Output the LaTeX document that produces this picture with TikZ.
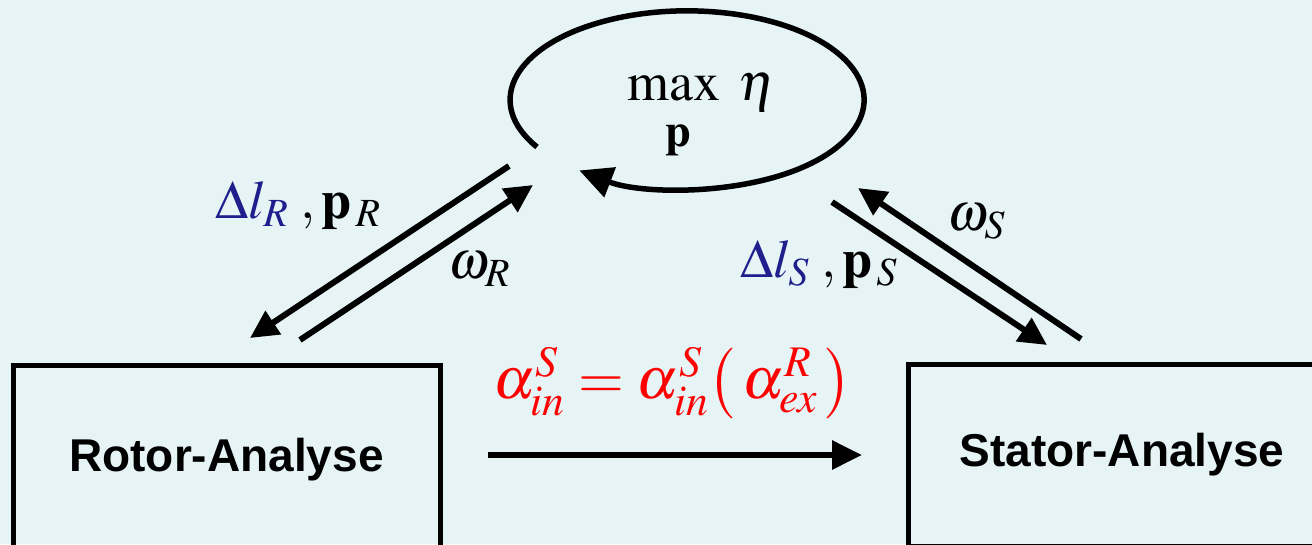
\documentclass[tikz,border=0pt]{standalone}
\usepackage{mathptmx}
\usepackage{fontspec}
\newfontfamily\arialfett[BoldFont={Liberation Sans Bold}]{Liberation Sans}
\usetikzlibrary{arrows.meta}
\definecolor{hgrund}{HTML}{E6F4F6}
\definecolor{dblau}{HTML}{1E1E8C}
\definecolor{frot}{HTML}{FF0000}
\tikzset{
  kasten/.style={draw=black,line width=5pt,inner sep=0pt,font=\arialfett\bfseries\fontsize{46}{50}\selectfont},
  pfeil/.style={line width=6pt,-{Triangle[length=30pt,width=28pt]}},
  schraeg/.style={line width=6pt,-{Triangle[length=28pt,width=27pt]}},
  schleife/.style={line width=5.5pt,-{Triangle[length=33pt,width=31pt]}},
  mathe/.style={inner sep=0pt,font=\fontsize{54}{60}\selectfont},
}
\begin{document}
\begin{tikzpicture}[x=1pt,y=-1pt]
  \useasboundingbox (0,0) rectangle (1312,544);
  \fill[hgrund] (0,0) rectangle (1312,544);
  \clip (0,0) rectangle (1312,544);
  % Kaesten
  \node[kasten,minimum width=427pt,minimum height=190pt] (rotor) at (226.5,460) {Rotor-Analyse};
  \node[kasten,minimum width=428pt,minimum height=182pt] (stator) at (1122,455) {Stator-Analyse};
  % Optimierung
  \node[mathe,anchor=base west] (zf) at (627,100) {$\max\;\eta$};
  \node[mathe,anchor=base,font=\fontsize{46}{50}\selectfont] (zv) at (678,146) {$\mathbf{p}$};
  \draw[schleife] (537,147) arc[start angle=148,end angle=487.5,x radius=177,y radius=89];
  % Rotor <-> Optimierung
  \coordinate (ra) at (509,166); \coordinate (rb) at (250,338);
  \coordinate (rc) at (300,340); \coordinate (rd) at (533,185);
  \draw[schraeg] (ra) -- (rb);
  \draw[schraeg] (rc) -- (rd);
  \node[mathe,anchor=base west] (rl) at (215,218) {$\color{dblau}\Delta l_{R}\color{black}\;,\mathbf{p}_{\,R}$};
  \node[mathe,anchor=base west] (rw) at (448,278) {$\omega_{R}$};
  % Stator <-> Optimierung
  \coordinate (sa) at (1081,339); \coordinate (sb) at (858,188);
  \coordinate (sc) at (832,202); \coordinate (sd) at (1047,345);
  \draw[schraeg] (sa) -- (sb);
  \draw[schraeg] (sc) -- (sd);
  \node[mathe,anchor=base west] (sl) at (740,277) {$\color{dblau}\Delta l_{S}\color{black}\;,\mathbf{p}_{\,S}$};
  \node[mathe,anchor=base west] (sw) at (947,230) {$\omega_{S}$};
  % Kopplung
  \coordinate (ka) at (488,455); \coordinate (kb) at (862,455);
  \draw[pfeil] (ka) -- (kb);
  \node[mathe,anchor=base west,text=frot,font=\fontsize{59}{65}\selectfont] (kf) at (493,398)
    {$\alpha_{in}^{S}=\alpha_{in}^{S}\bigl(\,\alpha_{ex}^{R}\,\bigr)$};
\end{tikzpicture}
\end{document}
